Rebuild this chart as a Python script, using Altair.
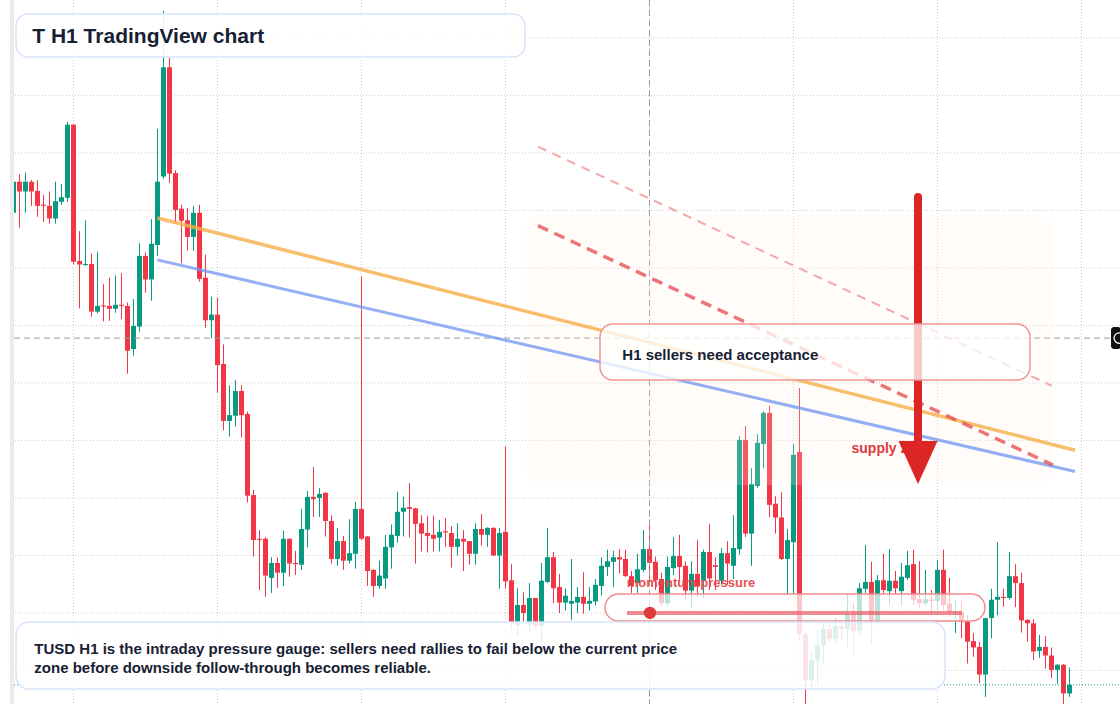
import altair as alt
import pandas as pd

# ---------------- candle data (H1 candles, price units) ----------------
opens = [129.6, 135.0, 133.3, 135.0, 133.4, 131.0, 130.8, 128.6, 131.5, 132.2,
         144.9, 121.2, 120.5, 120.7, 112.4, 113.5, 113.4, 112.9, 113.6, 113.4,
         105.9, 109.8, 122.1, 118.0, 124.0, 135.9, 154.9, 136.5, 130.3, 128.3,
         125.4, 129.6, 118.3, 110.9, 111.9, 103.3, 93.4, 94.3, 98.6, 94.6,
         80.5, 72.9, 72.9, 66.1, 68.7, 67.0, 72.9, 68.7, 68.4, 74.5,
         80.2, 80.0, 80.9, 76.0, 69.4, 72.5, 69.1, 70.3, 78.1, 73.3,
         67.5, 64.7, 66.0, 71.4, 73.4, 77.6, 78.4, 78.2, 75.6, 73.9,
         73.6, 73.1, 74.2, 73.9, 71.5, 72.9, 72.5, 70.3, 74.6, 73.6,
         74.8, 70.0, 74.1, 65.7, 57.9, 61.4, 57.9, 62.6, 57.7, 65.4,
         69.7, 64.5, 61.8, 61.6, 61.8, 62.8, 61.6, 62.0, 64.7, 68.0,
         68.9, 69.7, 69.4, 66.4, 65.2, 67.5, 71.1, 68.9, 65.9, 61.7,
         67.8, 69.9, 68.2, 63.9, 66.8, 65.7, 70.6, 68.3, 65.6, 70.4,
         68.2, 71.1, 90.1, 73.8, 82.1, 89.4, 94.8, 79.0, 76.6, 69.4,
         72.3, 88.0, 56.3, 48.3, 51.7, 54.3, 57.2, 55.5, 57.7, 57.2,
         59.8, 56.9, 64.2, 65.4, 58.5, 65.7, 63.8, 65.6, 63.8, 66.1,
         68.5, 62.4, 61.7, 62.4, 62.1, 67.5, 61.6, 60.0, 60.2, 58.5,
         55.1, 54.1, 49.3, 59.1, 62.3, 62.8, 62.6, 66.4, 65.2, 58.8,
         58.2, 53.4, 54.1, 52.6, 50.1, 51.0, 46.0]
highs = [135.5, 136.3, 136.6, 135.3, 135.3, 132.7, 133.3, 135.0, 134.6, 145.4,
         145.0, 126.4, 128.3, 122.5, 122.8, 117.2, 118.3, 118.7, 119.1, 114.0,
         114.6, 124.3, 122.7, 128.5, 144.2, 164.7, 156.5, 137.0, 131.0, 130.4,
         130.8, 131.0, 122.3, 115.0, 114.8, 106.7, 99.6, 100.5, 99.6, 95.0,
         81.4, 74.4, 73.2, 69.7, 69.7, 74.3, 73.0, 70.8, 78.1, 81.2,
         85.4, 81.7, 81.0, 77.0, 74.8, 73.4, 76.3, 79.3, 118.5, 73.4,
         67.6, 69.1, 73.6, 75.4, 81.1, 80.2, 82.6, 78.3, 77.0, 76.9,
         76.9, 76.2, 76.5, 75.1, 75.6, 74.4, 72.5, 75.6, 77.2, 74.9,
         74.9, 74.8, 89.0, 68.5, 64.3, 63.6, 65.2, 62.6, 68.7, 74.8,
         70.6, 66.8, 64.3, 69.4, 64.5, 67.1, 64.5, 65.9, 69.7, 71.0,
         70.8, 71.1, 71.0, 67.3, 70.3, 74.4, 75.3, 69.8, 67.0, 69.8,
         73.2, 73.6, 69.0, 69.0, 72.7, 71.0, 75.5, 69.7, 71.3, 72.5,
         77.0, 90.8, 92.5, 85.2, 91.1, 95.1, 96.0, 80.3, 81.0, 74.6,
         89.4, 99.1, 57.0, 53.2, 57.0, 58.3, 58.8, 59.1, 58.4, 63.3,
         61.7, 65.2, 71.8, 68.9, 66.6, 70.3, 71.1, 67.3, 68.7, 70.8,
         71.0, 69.0, 67.5, 64.0, 69.2, 71.0, 66.1, 62.1, 62.1, 59.6,
         56.5, 55.0, 59.1, 64.2, 72.3, 64.2, 70.6, 68.5, 67.0, 58.9,
         58.9, 56.2, 56.0, 54.0, 51.1, 51.1, 50.5]
lows = [129.4, 127.0, 129.6, 130.8, 128.9, 128.0, 127.7, 127.7, 131.0, 131.5,
        120.6, 113.0, 120.4, 111.5, 112.1, 110.7, 110.8, 112.2, 111.1, 101.6,
        104.7, 108.9, 115.7, 114.3, 122.1, 135.5, 134.8, 127.7, 120.8, 123.0,
        123.0, 117.6, 109.6, 107.8, 98.3, 91.8, 90.7, 92.4, 90.5, 79.2,
        69.8, 64.0, 62.8, 63.5, 64.4, 64.7, 66.3, 66.6, 67.5, 71.4,
        76.7, 76.7, 73.3, 68.6, 68.2, 67.5, 68.6, 67.7, 72.7, 64.7,
        62.8, 64.2, 64.2, 67.7, 72.2, 73.3, 73.1, 68.6, 70.7, 70.5,
        70.7, 70.7, 71.5, 67.9, 70.0, 67.3, 68.4, 68.4, 71.7, 71.5,
        69.9, 64.2, 64.3, 57.0, 56.0, 58.6, 56.6, 57.4, 55.0, 65.2,
        61.7, 60.0, 60.4, 58.8, 60.0, 59.9, 60.4, 61.3, 63.0, 66.4,
        64.5, 66.9, 66.3, 63.5, 63.5, 67.1, 65.7, 64.0, 61.2, 61.2,
        66.6, 65.6, 62.3, 60.9, 62.8, 62.6, 64.0, 64.0, 64.9, 64.9,
        65.9, 70.1, 73.2, 68.2, 81.7, 85.2, 76.7, 73.8, 69.2, 63.1,
        63.3, 55.3, 42.8, 47.0, 47.5, 51.0, 54.8, 54.8, 55.3, 54.1,
        52.6, 55.9, 63.5, 54.4, 57.9, 63.4, 61.4, 63.4, 61.2, 65.7,
        61.4, 60.9, 61.2, 59.6, 59.6, 60.5, 59.3, 56.5, 55.6, 51.2,
        52.4, 47.8, 45.4, 55.6, 59.6, 61.1, 62.3, 61.0, 56.6, 55.0,
        51.8, 52.2, 50.3, 48.7, 47.7, 44.2, 45.4]
closes = [135.0, 133.3, 135.0, 133.3, 130.8, 130.8, 128.6, 131.6, 132.3, 144.9,
          121.1, 120.6, 120.7, 112.4, 113.4, 113.3, 112.9, 113.6, 113.4, 105.6,
          109.9, 122.1, 118.0, 124.2, 135.0, 154.9, 136.4, 130.1, 128.2, 125.4,
          129.6, 118.1, 110.9, 111.9, 103.1, 93.4, 94.4, 98.6, 94.4, 80.4,
          72.7, 72.7, 66.5, 68.7, 67.0, 72.9, 68.6, 68.5, 74.6, 80.2,
          79.8, 80.7, 76.0, 69.4, 72.5, 69.1, 70.4, 78.1, 72.9, 67.3,
          64.7, 66.5, 71.5, 73.6, 77.6, 78.3, 78.1, 75.5, 73.8, 73.4,
          72.9, 74.1, 74.0, 71.5, 72.9, 72.4, 70.3, 74.6, 73.6, 74.8,
          70.0, 73.9, 65.5, 58.3, 61.4, 60.0, 62.6, 57.7, 65.6, 69.7,
          64.3, 61.8, 63.0, 62.1, 62.8, 61.6, 62.1, 64.9, 68.2, 69.0,
          69.7, 69.3, 66.4, 64.7, 67.6, 71.1, 68.7, 65.7, 61.7, 68.0,
          69.9, 68.0, 63.9, 66.8, 64.6, 70.6, 66.0, 68.0, 70.4, 68.6,
          71.3, 90.1, 73.8, 82.4, 89.6, 94.8, 78.8, 76.6, 69.4, 72.7,
          87.5, 56.3, 48.3, 51.8, 54.4, 57.2, 55.5, 57.7, 57.2, 59.8,
          56.9, 64.3, 65.4, 58.5, 65.7, 64.0, 65.6, 64.3, 66.3, 68.3,
          62.3, 61.7, 62.4, 62.1, 67.5, 61.4, 60.2, 60.2, 58.5, 55.0,
          54.0, 49.3, 59.1, 62.3, 62.8, 62.6, 66.4, 65.2, 58.7, 58.2,
          53.3, 54.1, 52.6, 50.1, 51.0, 46.0, 47.5]

# grid tick values (candle index / price)
x_grid = [10, 34, 58, 82, 106, 130, 154, 178]
y_grid = [50, 60, 70, 80, 90, 100, 110, 120, 130, 140, 150, 160]

# drawing anchors (candle index, price)
orange_x, orange_y = [23.97, 176.92], [128.7, 88.3]
blue_x, blue_y = [23.97, 176.92], [121.4, 84.6]
dthick_x, dthick_y = [87.42, 173.25], [127.35, 85.73]
dthin_x, dthin_y = [87.42, 173.03], [141.09, 99.52]
zone_x, zone_y = [85.58, 173.08], [129.2, 82.25]
arrow_x, arrow_y = [150.75], [132.34, 88.34]
arrow_head_y = [86.17]
cross_x, cross_y = [106], [107.8]
cross_span = [0.083, 182.9]
label_x, label_y = [182.92, 184.6], [109.73, 105.9]
sellers_box_x, sellers_box_y = [97.75, 169.42], [110.25, 100.51]
pill_x, pill_y = [98.58, 161.92], [63.3, 58.6]
pill_line_x, pill_line_y = [102.25, 158.08], [60.0]
pill_dot_x = [106.08]
bottom_box_x, bottom_box_y = [0.42, 155.25], [58.43, 46.78]
title_box_x, title_box_y = [0.42, 85.25], [164.17, 156.69]
strip_white_x, strip_gray_x = [-2.25, -0.583], [-0.583, 0.083]

texts = {
    "title": ("T H1 TradingView chart", 3.13, 159.07),
    "sellers": ("H1 sellers need acceptance", 101.47, 103.99),
    "supply": ("supply zone", 139.67, 87.77),
    "momentum": ("momentum pressure", 102.2, 64.57),
    "line1": ("TUSD H1 is the intraday pressure gauge: sellers need rallies to fail below the current price", 3.47, 52.81),
    "line2": ("zone before downside follow-through becomes reliable.", 3.47, 49.5),
}

GREEN = "#089981"
RED = "#f23645"
INK = "#172033"
FONT = "Liberation Sans"

xs = alt.Scale(domain=[-2.25, 184.4167], nice=False, zero=False, padding=0)
ys = alt.Scale(domain=[44.17, 166.6], nice=False, zero=False, padding=0)


def X(f):
    return alt.X(f, type="quantitative", scale=xs, axis=None)


def Y(f):
    return alt.Y(f, type="quantitative", scale=ys, axis=None)


df = pd.DataFrame({"i": list(range(len(opens))), "open": opens, "high": highs,
                   "low": lows, "close": closes})
df["dir"] = ["up" if c >= o else "down" for o, c in zip(opens, closes)]
df["top"] = [max(o, c) for o, c in zip(opens, closes)]
df["bot"] = [min(o, c) for o, c in zip(opens, closes)]
color = alt.Color("dir:N", scale=alt.Scale(domain=["up", "down"], range=[GREEN, RED]), legend=None)

layers = []

# grid
layers.append(alt.Chart(pd.DataFrame({"v": y_grid})).mark_rule(
    color="#cdcdcd", strokeWidth=1, strokeDash=[1, 2]).encode(y=Y("v")))
layers.append(alt.Chart(pd.DataFrame({"v": x_grid})).mark_rule(
    color="#cdcdcd", strokeWidth=1, strokeDash=[1, 2]).encode(x=X("v")))

# candles
base = alt.Chart(df)
layers.append(base.mark_rule(strokeWidth=1).encode(x=X("i"), y=Y("low"), y2="high", color=color))
layers.append(base.mark_bar(size=5, opacity=1).encode(x=X("i"), y=Y("bot"), y2="top", color=color))

# crosshair
layers.append(alt.Chart(pd.DataFrame({"x": cross_x})).mark_rule(
    color="#9a9a9a", strokeWidth=1, strokeDash=[6, 4]).encode(x=X("x")))
layers.append(alt.Chart(pd.DataFrame({"y": cross_y, "x": [cross_span[0]], "x2": [cross_span[1]]})).mark_rule(
    color="#9a9a9a", strokeWidth=1, strokeDash=[6, 4]).encode(x=X("x"), x2="x2", y=Y("y")))

# last price line
layers.append(alt.Chart(pd.DataFrame({"y": [closes[-1]], "x": [0.083], "x2": [184.5]})).mark_rule(
    color=GREEN, strokeWidth=1, strokeDash=[1, 2]).encode(x=X("x"), x2="x2", y=Y("y")))

# supply zone shading
layers.append(alt.Chart(pd.DataFrame({"x": [zone_x[0]], "x2": [zone_x[1]], "y": [zone_y[0]], "y2": [zone_y[1]]}))
              .mark_rect(color="#fff1e6", opacity=0.2, cornerRadius=14)
              .encode(x=X("x"), x2="x2", y=Y("y"), y2="y2"))


def seg(xv, yv, **kw):
    d = pd.DataFrame({"x": xv, "y": yv, "o": list(range(len(xv)))})
    return alt.Chart(d).mark_line(**kw).encode(x=X("x"), y=Y("y"), order="o:Q")


layers.append(seg(orange_x, orange_y, color="#f6b04a", strokeWidth=3.5, opacity=0.82))
layers.append(seg(blue_x, blue_y, color="#7598f2", strokeWidth=3, opacity=0.78))
layers.append(seg(dthin_x, dthin_y, color="#f2a0a0", strokeWidth=2, strokeDash=[9, 7], opacity=0.9))
layers.append(seg(dthick_x, dthick_y, color="#e5484d", strokeWidth=3.5, strokeDash=[11, 7], opacity=0.75))


def label(key, size, col, opacity=1.0):
    t, xv, yv = texts[key]
    d = pd.DataFrame({"t": [t], "x": [xv], "y": [yv]})
    return alt.Chart(d).mark_text(align="left", baseline="alphabetic", font=FONT, fontSize=size,
                                  fontWeight="bold", color=col, opacity=opacity).encode(
        x=X("x"), y=Y("y"), text="t:N")


layers.append(label("supply", 14, "#e03a3e"))

# arrow
layers.append(alt.Chart(pd.DataFrame({"x": arrow_x, "y": [arrow_y[0]], "y2": [arrow_y[1]]})).mark_rule(
    color="#dc2626", strokeWidth=8, strokeCap="round").encode(x=X("x"), y=Y("y"), y2="y2"))
layers.append(alt.Chart(pd.DataFrame({"x": arrow_x, "y": arrow_head_y})).mark_point(
    shape="M-1,-1.1L1,-1.1L0,1.1Z", filled=True, size=1521, color="#dc2626", opacity=1, strokeWidth=0)
    .encode(x=X("x"), y=Y("y")))


def box(bx, by, fill_op, stroke, radius):
    d = pd.DataFrame({"x": [bx[0]], "x2": [bx[1]], "y": [by[0]], "y2": [by[1]]})
    return alt.Chart(d).mark_rect(fill="white", fillOpacity=fill_op, stroke=stroke, strokeWidth=1.5,
                                  cornerRadius=radius).encode(x=X("x"), x2="x2", y=Y("y"), y2="y2")


layers.append(box(sellers_box_x, sellers_box_y, 0.76, "#f09696", 13))
layers.append(label("sellers", 15, INK))

# momentum pill
layers.append(box(pill_x, pill_y, 0.72, "#f08c8c", 13.5))
layers.append(alt.Chart(pd.DataFrame({"x": [pill_line_x[0]], "x2": [pill_line_x[1]], "y": pill_line_y})).mark_rule(
    color="#e85a5e", strokeWidth=4, opacity=0.7).encode(x=X("x"), x2="x2", y=Y("y")))
layers.append(alt.Chart(pd.DataFrame({"x": pill_dot_x, "y": pill_line_y})).mark_point(
    shape="circle", filled=True, size=154, color="#e0393e", opacity=1).encode(x=X("x"), y=Y("y")))
layers.append(label("momentum", 13, "#e44548", 0.92))

# bottom note
layers.append(box(bottom_box_x, bottom_box_y, 0.86, "#d6e3fa", 13))
layers.append(label("line1", 15, INK))
layers.append(label("line2", 15, INK))

# title
layers.append(box(title_box_x, title_box_y, 0.88, "#d6e3fa", 12))
layers.append(label("title", 21, INK))

# left edge strip
layers.append(alt.Chart(pd.DataFrame({"x": [strip_white_x[0]], "x2": [strip_white_x[1]], "y": [44.17], "y2": [166.6]}))
              .mark_rect(color="white").encode(x=X("x"), x2="x2", y=Y("y"), y2="y2"))
layers.append(alt.Chart(pd.DataFrame({"x": [strip_gray_x[0]], "x2": [strip_gray_x[1]], "y": [44.17], "y2": [166.6]}))
              .mark_rect(color="#ebebeb").encode(x=X("x"), x2="x2", y=Y("y"), y2="y2"))

# crosshair price label (cut at right edge)
layers.append(alt.Chart(pd.DataFrame({"x": [label_x[0]], "x2": [label_x[1]], "y": [label_y[0]], "y2": [label_y[1]]}))
              .mark_rect(color="#111111", cornerRadius=3).encode(x=X("x"), x2="x2", y=Y("y"), y2="y2"))
layers.append(alt.Chart(pd.DataFrame({"x": [184.3], "y": cross_y})).mark_point(
    shape="circle", filled=False, size=110, color="white", strokeWidth=1.3, opacity=1).encode(x=X("x"), y=Y("y")))

chart = alt.layer(*layers).properties(
    width=1120, height=704, padding=0,
    autosize=alt.AutoSizeParams(type="none"),
    background="white",
).configure_view(strokeWidth=0)

chart.save("out.html", embed_options={"renderer": "svg", "actions": False})
